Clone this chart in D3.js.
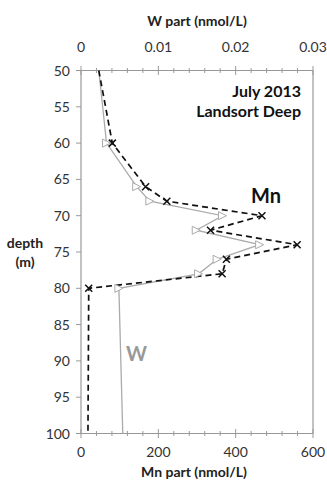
<!DOCTYPE html>
<html>
<head>
<meta charset="utf-8">
<script src="https://cdn.jsdelivr.net/npm/d3@7"></script>
<style>
  body { margin: 0; background: #fff; }
  svg { display: block; font-family: Lato, "Open Sans", sans-serif; }
  .tick-label { font-size: 14px; fill: #333; }
  .title { font-size: 14px; font-weight: bold; fill: #222; }
</style>
</head>
<body>
<svg id="chart" width="327" height="482"></svg>
<script>
// depth (m) for each sample
var depths = [50, 60, 66, 68, 70, 72, 74, 76, 78, 80, 100];
// particulate Mn (nmol/L), bottom axis
var mnValues = [46, 81, 167, 222, 468, 335, 559, 376, 365, 20, 18];
// particulate W (nmol/L), top axis
var wValues = [0.0023, 0.0033, 0.0072, 0.0089, 0.0183, 0.0149, 0.0231, 0.0176, 0.0152, 0.0049, 0.0054];
// depths that carry a marker
var markedDepths = [60, 66, 68, 70, 72, 74, 76, 78, 80];

var depthTicks = [50, 55, 60, 65, 70, 75, 80, 85, 90, 95, 100];
var mnTicks = [0, 200, 400, 600];
var wTicks = [0, 0.01, 0.02, 0.03];

var svg = d3.select('#chart');

var plotLeft = 81, plotRight = 313, plotTop = 70.5, plotBottom = 433.5;

var y = d3.scaleLinear().domain([50, 100]).range([plotTop, plotBottom]);
var xMn = d3.scaleLinear().domain([0, 600]).range([plotLeft, plotRight]);
var xW = d3.scaleLinear().domain([0, 0.03]).range([plotLeft, plotRight]);

var axisColor = '#999';

// frame: top, bottom, left, right lines
svg.append('g').selectAll('line')
  .data([
    [plotLeft, plotTop, plotRight, plotTop],
    [plotLeft, plotBottom, plotRight, plotBottom],
    [plotLeft, plotTop, plotLeft, plotBottom],
    [plotRight, plotTop, plotRight, plotBottom]
  ])
  .enter().append('line')
  .attr('x1', function(d) { return d[0]; })
  .attr('y1', function(d) { return d[1]; })
  .attr('x2', function(d) { return d[2]; })
  .attr('y2', function(d) { return d[3]; })
  .attr('stroke', axisColor)
  .attr('stroke-width', 1.2);

// minor + major ticks crossing the top and bottom axes
function crossTicks(scale, step, count, yPos, majorEvery) {
  var g = svg.append('g');
  for (var i = 0; i <= count; i++) {
    var v = i * step;
    var major = i % majorEvery === 0;
    var len = major ? 4.5 : 2.5;
    g.append('line')
      .attr('x1', scale(v)).attr('x2', scale(v))
      .attr('y1', yPos - len).attr('y2', yPos + len)
      .attr('stroke', axisColor)
      .attr('stroke-width', 1);
  }
}
crossTicks(xW, 0.002, 15, plotTop, 5);
crossTicks(xMn, 40, 15, plotBottom, 5);

// left ticks
svg.append('g').selectAll('line')
  .data(depthTicks)
  .enter().append('line')
  .attr('x1', plotLeft - 5).attr('x2', plotLeft)
  .attr('y1', function(d) { return y(d); })
  .attr('y2', function(d) { return y(d); })
  .attr('stroke', axisColor);

// tick labels
svg.append('g').selectAll('text')
  .data(depthTicks)
  .enter().append('text')
  .attr('class', 'tick-label')
  .attr('x', 70)
  .attr('y', function(d) { return y(d) + 5; })
  .attr('text-anchor', 'end')
  .text(String);

svg.append('g').selectAll('text')
  .data(wTicks)
  .enter().append('text')
  .attr('class', 'tick-label')
  .attr('x', function(d) { return xW(d); })
  .attr('y', 52)
  .attr('text-anchor', 'middle')
  .text(function(d) { return d === 0 ? '0' : String(d); });

svg.append('g').selectAll('text')
  .data(mnTicks)
  .enter().append('text')
  .attr('class', 'tick-label')
  .attr('x', function(d) { return xMn(d); })
  .attr('y', 457)
  .attr('text-anchor', 'middle')
  .text(String);

// axis titles
svg.append('text').attr('class', 'title')
  .attr('x', (plotLeft + plotRight) / 2).attr('y', 26)
  .attr('text-anchor', 'middle')
  .text('W part (nmol/L)');

svg.append('text').attr('class', 'title')
  .attr('x', (plotLeft + plotRight) / 2 - 3).attr('y', 477)
  .attr('text-anchor', 'middle')
  .text('Mn part (nmol/L)');

var yTitle = svg.append('text').attr('class', 'title')
  .attr('text-anchor', 'middle');
yTitle.append('tspan').attr('x', 25).attr('y', 248).text('depth');
yTitle.append('tspan').attr('x', 25).attr('y', 267).text('(m)');

// series
var wData = depths.map(function(d, i) { return {depth: d, v: wValues[i]}; });
var mnData = depths.map(function(d, i) { return {depth: d, v: mnValues[i]}; });

var wLine = d3.line()
  .x(function(d) { return xW(d.v); })
  .y(function(d) { return y(d.depth); });
var mnLine = d3.line()
  .x(function(d) { return xMn(d.v); })
  .y(function(d) { return y(d.depth); });

svg.append('path')
  .datum(wData)
  .attr('d', wLine)
  .attr('fill', 'none')
  .attr('stroke', '#aaa')
  .attr('stroke-width', 1.3);

svg.append('path')
  .datum(mnData)
  .attr('d', mnLine)
  .attr('fill', 'none')
  .attr('stroke', '#111')
  .attr('stroke-width', 1.7)
  .attr('stroke-dasharray', '6,4');

function isMarked(d) { return markedDepths.indexOf(d.depth) !== -1; }

// W markers: open triangles pointing right
svg.append('g').selectAll('path')
  .data(wData.filter(isMarked))
  .enter().append('path')
  .attr('transform', function(d) {
    return 'translate(' + xW(d.v) + ',' + y(d.depth) + ')';
  })
  .attr('d', 'M-4,-4L4,0L-4,4Z')
  .attr('fill', '#fff')
  .attr('stroke', '#aaa')
  .attr('stroke-width', 1);

// Mn markers: crosses
svg.append('g').selectAll('path')
  .data(mnData.filter(isMarked))
  .enter().append('path')
  .attr('transform', function(d) {
    return 'translate(' + xMn(d.v) + ',' + y(d.depth) + ')';
  })
  .attr('d', 'M-3.5,-3.5L3.5,3.5M-3.5,3.5L3.5,-3.5')
  .attr('stroke', '#111')
  .attr('stroke-width', 1.5);

// annotations
svg.append('text')
  .attr('x', 301).attr('y', 97)
  .attr('text-anchor', 'end')
  .attr('font-size', 16).attr('font-weight', 'bold').attr('fill', '#111')
  .text('July 2013');
svg.append('text')
  .attr('x', 301).attr('y', 117)
  .attr('text-anchor', 'end')
  .attr('font-size', 16).attr('font-weight', 'bold').attr('fill', '#111')
  .text('Landsort Deep');

svg.append('text')
  .attr('x', 251).attr('y', 203)
  .attr('font-size', 20).attr('font-weight', 'bold').attr('fill', '#111')
  .text('Mn');

svg.append('text')
  .attr('x', 126).attr('y', 361)
  .attr('font-size', 20).attr('font-weight', 'bold').attr('fill', '#999')
  .text('W');
</script>
</body>
</html>
